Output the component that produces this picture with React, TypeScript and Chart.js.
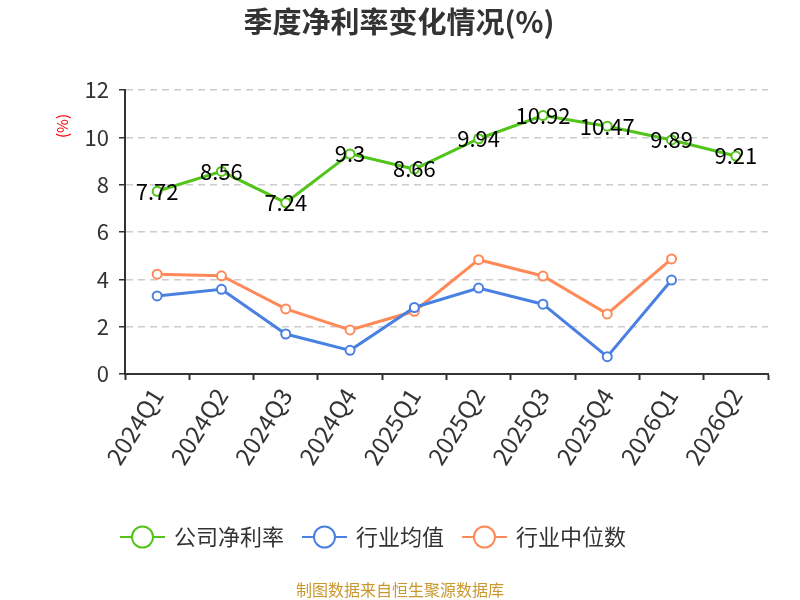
import { useEffect, useRef } from "react";
import { Chart, registerables } from "chart.js";

Chart.register(...registerables);

const categories = [
  "2024Q1", "2024Q2", "2024Q3", "2024Q4", "2025Q1",
  "2025Q2", "2025Q3", "2025Q4", "2026Q1", "2026Q2",
];
const netMargin = [7.72, 8.56, 7.24, 9.3, 8.66, 9.94, 10.92, 10.47, 9.89, 9.21];
const industryAvg = [3.3, 3.58, 1.69, 1.0, 2.81, 3.63, 2.95, 0.73, 3.97, null];
const industryMedian = [4.22, 4.15, 2.75, 1.86, 2.65, 4.83, 4.14, 2.54, 4.86, null];
const seriesNames = ["公司净利率", "行业均值", "行业中位数"];
const seriesColors = ["#52c41a", "#4a80e2", "#ff8a57"];

const FONT = '"Noto Sans CJK SC", "Noto Sans", sans-serif';

const decorPlugin = {
  id: "decor",
  afterDatasetsDraw(chart: any) {
    const { ctx } = chart;
    const meta = chart.getDatasetMeta(0);
    ctx.save();
    ctx.font = `22px ${FONT}`;
    ctx.fillStyle = "#000";
    ctx.textAlign = "center";
    ctx.textBaseline = "middle";
    meta.data.forEach((pt: any, i: number) => {
      ctx.fillText(String(netMargin[i]), pt.x, pt.y);
    });
    ctx.restore();
  },
  afterDraw(chart: any) {
    const { ctx } = chart;
    ctx.save();
    // title
    ctx.font = `bold 29px ${FONT}`;
    ctx.fillStyle = "#333";
    ctx.textAlign = "center";
    ctx.textBaseline = "middle";
    ctx.fillText("季度净利率变化情况(%)", 399, 22);

    // y axis unit
    ctx.save();
    ctx.translate(62, 126);
    ctx.rotate(-Math.PI / 2);
    ctx.font = `15px ${FONT}`;
    ctx.fillStyle = "#ff0000";
    ctx.fillText("(%)", 0, 0);
    ctx.restore();

    // legend
    const starts = [120, 302, 462];
    const y = 537;
    ctx.font = `22px ${FONT}`;
    ctx.textAlign = "left";
    seriesNames.forEach((name, i) => {
      const x0 = starts[i];
      ctx.strokeStyle = seriesColors[i];
      ctx.lineWidth = 2;
      ctx.beginPath();
      ctx.moveTo(x0, y);
      ctx.lineTo(x0 + 45, y);
      ctx.stroke();
      ctx.beginPath();
      ctx.arc(x0 + 22.5, y, 10.5, 0, Math.PI * 2);
      ctx.fillStyle = "#fff";
      ctx.fill();
      ctx.stroke();
      ctx.fillStyle = "#333";
      ctx.fillText(name, x0 + 54, y);
    });

    // footer
    ctx.font = `16px ${FONT}`;
    ctx.fillStyle = "#c8982e";
    ctx.textAlign = "center";
    ctx.fillText("制图数据来自恒生聚源数据库", 400, 590);
    ctx.restore();
  },
};

export default function App() {
  const canvasRef = useRef<HTMLCanvasElement | null>(null);

  useEffect(() => {
    const canvas = canvasRef.current;
    if (!canvas) return;

    const mkSet = (label: string, data: (number | null)[], color: string) => ({
      label,
      data,
      borderColor: color,
      backgroundColor: "#fff",
      pointBackgroundColor: "#fff",
      pointBorderColor: color,
      borderWidth: 3,
      pointRadius: 4.5,
      pointBorderWidth: 2,
      tension: 0,
    });

    const chart = new Chart(canvas, {
      type: "line",
      data: {
        labels: categories,
        datasets: [
          mkSet(seriesNames[0], netMargin, seriesColors[0]),
          mkSet(seriesNames[1], industryAvg, seriesColors[1]),
          mkSet(seriesNames[2], industryMedian, seriesColors[2]),
        ],
      },
      options: {
        responsive: true,
        maintainAspectRatio: false,
        animation: false,
        layout: { padding: { top: 90, right: 32, left: 0, bottom: 0 } },
        plugins: {
          legend: { display: false },
          tooltip: { enabled: false },
          title: { display: false },
        },
        scales: {
          x: {
            offset: true,
            afterFit: (scale: any) => {
              scale.height = 226;
            },
            grid: {
              offset: true,
              drawOnChartArea: false,
              drawTicks: true,
              tickLength: 6,
              tickColor: "#333",
              tickWidth: 2,
            },
            border: { color: "#333", width: 2 },
            ticks: {
              color: "#333",
              font: { family: FONT, size: 24 },
              minRotation: 58,
              maxRotation: 58,
              autoSkip: false,
            },
          },
          y: {
            min: 0,
            max: 12,
            afterFit: (scale: any) => {
              scale.width = 125;
            },
            grid: {
              color: "#cccccc",
              lineWidth: 1.5,
              drawTicks: true,
              tickLength: 6,
              tickColor: "#333",
            },
            border: { color: "#333", width: 2, dash: [7, 5] },
            ticks: {
              stepSize: 2,
              color: "#333",
              padding: 10,
              font: { family: FONT, size: 22 },
            },
          },
        },
      },
      plugins: [decorPlugin],
    });

    return () => {
      chart.destroy();
    };
  }, []);

  return (
    <div style={{ position: "fixed", left: 0, top: 0, width: 800, height: 600, background: "#fff" }}>
      <canvas ref={canvasRef} />
    </div>
  );
}
